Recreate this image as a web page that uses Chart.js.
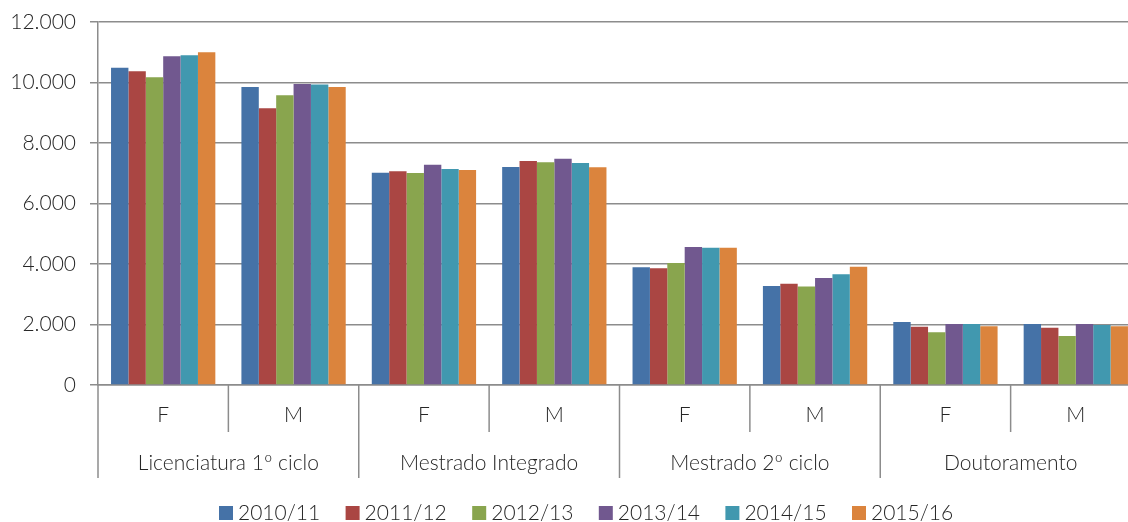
<!DOCTYPE html>
<html lang="pt">
<head>
<meta charset="UTF-8">
<title>Estudantes por ciclo e sexo</title>
<script src="https://cdn.jsdelivr.net/npm/chart.js"></script>
<style>
    html, body { margin: 0; padding: 0; background: #fff; overflow: hidden; }
    #wrap { width: 1141px; height: 522px; }
</style>
</head>
<body>
<div id="wrap"><canvas id="chart"></canvas></div>
<script>
// dados
const groups = ['Licenciatura 1º ciclo', 'Mestrado Integrado', 'Mestrado 2º ciclo', 'Doutoramento'];
const sexes = ['F', 'M'];
const categories = ['F', 'M', 'F', 'M', 'F', 'M', 'F', 'M'];
const years = ['2010/11', '2011/12', '2012/13', '2013/14', '2014/15', '2015/16'];

const v2010 = [10490, 9850, 7020, 7210, 3890, 3270, 2080, 2020];
const v2011 = [10370, 9150, 7065, 7405, 3860, 3350, 1925, 1895];
const v2012 = [10170, 9580, 7010, 7360, 4030, 3260, 1740, 1620];
const v2013 = [10870, 9950, 7280, 7480, 4560, 3540, 2020, 2020];
const v2014 = [10900, 9930, 7140, 7340, 4540, 3660, 2020, 1985];
const v2015 = [11000, 9850, 7110, 7200, 4540, 3910, 1940, 1940];

const yTicks = [0, 2000, 4000, 6000, 8000, 10000, 12000];

const colors = ['#4572A7', '#AA4643', '#89A54E', '#71588F', '#4198AF', '#DB843D'];
const series = [v2010, v2011, v2012, v2013, v2014, v2015];

const FONT = 'Lato, "Open Sans", sans-serif';
const TXT = '#262626';
const LINE = '#8c8c8c';

function fmt(v) {
    return String(v).replace(/\B(?=(\d{3})+(?!\d))/g, '.');
}

// eixo x em dois níveis + legenda
const axisPlugin = {
    id: 'axisPlugin',
    afterDraw(chart) {
        const ctx = chart.ctx;
        const x = chart.scales.x;
        const base = chart.chartArea.bottom;
        const half = (x.getPixelForTick(1) - x.getPixelForTick(0)) / 2;

        ctx.save();
        ctx.strokeStyle = LINE;
        ctx.lineWidth = 1.5;
        ctx.fillStyle = TXT;
        ctx.font = '300 21px ' + FONT;
        ctx.textAlign = 'center';
        ctx.textBaseline = 'middle';

        categories.forEach((c, i) => {
            const cx = x.getPixelForTick(i);
            const left = cx - half;
            const long = i % sexes.length === 0;
            ctx.beginPath();
            ctx.moveTo(left, base);
            ctx.lineTo(left, base + (long ? 93 : 47));
            ctx.stroke();
            ctx.fillText(c, cx, base + 30);
        });
        const lastRight = x.getPixelForTick(categories.length - 1) + half;
        ctx.beginPath();
        ctx.moveTo(lastRight, base);
        ctx.lineTo(lastRight, base + 93);
        ctx.stroke();

        groups.forEach((g, gi) => {
            const a = x.getPixelForTick(gi * 2) - half;
            const b = x.getPixelForTick(gi * 2 + 1) + half;
            ctx.fillText(g, (a + b) / 2, base + 78);
        });

        // legenda
        const step = 126.6;
        const start = 219;
        const ly = 513;
        ctx.textAlign = 'left';
        years.forEach((y, i) => {
            const bx = start + i * step;
            ctx.fillStyle = colors[i];
            ctx.fillRect(bx, ly - 7, 14, 14);
            ctx.fillStyle = TXT;
            ctx.fillText(y, bx + 19, ly);
        });
        ctx.restore();
    }
};

new Chart(document.getElementById('chart'), {
    type: 'bar',
    data: {
        labels: categories,
        datasets: years.map((y, i) => ({
            label: y,
            data: series[i],
            backgroundColor: colors[i],
            borderWidth: 0,
            barPercentage: 1,
            categoryPercentage: 0.8
        }))
    },
    options: {
        responsive: true,
        maintainAspectRatio: false,
        animation: false,
        layout: { padding: { top: 22, bottom: 37, left: 0, right: 0 } },
        plugins: {
            legend: { display: false },
            tooltip: { enabled: false }
        },
        scales: {
            x: {
                grid: { display: false },
                border: { display: true, color: LINE, width: 1.5 },
                ticks: { display: false },
                afterFit(scale) { scale.height = 100; }
            },
            y: {
                min: 0,
                max: 12000,
                afterBuildTicks(scale) { scale.ticks = yTicks.map(v => ({ value: v })); },
                grid: { color: LINE, lineWidth: 1.5, tickLength: 8 },
                border: { display: true, color: LINE, width: 1.5 },
                ticks: {
                    color: TXT,
                    padding: 14,
                    font: { family: FONT, size: 21, weight: '300' },
                    callback: v => fmt(v)
                },
                afterFit(scale) {
                    scale.width = 98;
                    scale.paddingTop = 0;
                    scale.paddingBottom = 0;
                }
            }
        }
    },
    plugins: [axisPlugin]
});
</script>
</body>
</html>
